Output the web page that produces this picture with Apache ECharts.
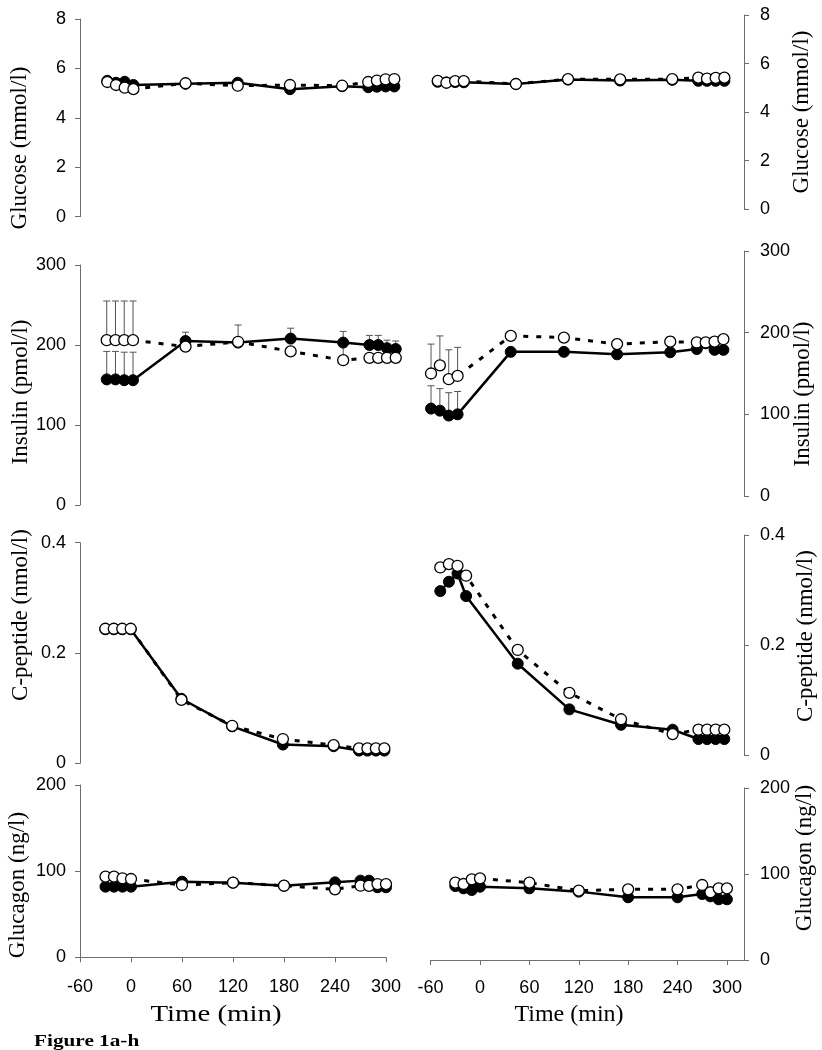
<!DOCTYPE html>
<html>
<head>
<meta charset="utf-8">
<script src="https://cdn.jsdelivr.net/npm/echarts@6.0.0/dist/echarts.min.js"></script>
<style>
html,body{margin:0;padding:0;background:#fff;}
#chart{width:822px;height:1050px;}
</style>
</head>
<body>
<div id="chart"></div>
<script>
// ---------- DATA ----------
const time = [-30, -20, -10, 0, 60, 120, 180, 240, 270, 280, 290, 300];
const xTickLabels = [-60, 0, 60, 120, 180, 240, 300];

// (a) Glucose, left
const glucoseA_filled = [5.50, 5.42, 5.46, 5.33, 5.38, 5.42, 5.16, 5.28, 5.24, 5.26, 5.27, 5.27];
const glucoseA_open   = [5.45, 5.33, 5.22, 5.16, 5.40, 5.30, 5.33, 5.30, 5.45, 5.51, 5.56, 5.57];
// (b) Glucose, right
const glucoseB_filled = [5.25, 5.22, 5.24, 5.23, 5.16, 5.34, 5.30, 5.33, 5.29, 5.29, 5.29, 5.29];
const glucoseB_open   = [5.29, 5.21, 5.28, 5.28, 5.16, 5.36, 5.35, 5.36, 5.42, 5.38, 5.41, 5.42];
// (c) Insulin, left
const insulinC_filled    = [157, 157, 156, 156, 205, 203, 208, 203, 200, 200, 196, 195];
const insulinC_filledErr = [35, 35, 35, 35, 11, 22, 13, 14, 12, 12, 10, 10];
const insulinC_open      = [206, 206, 206, 206, 198, 204, 192, 181, 184, 184, 184, 184];
const insulinC_openErr   = [49, 49, 49, 49, 0, 0, 0, 22, 0, 0, 0, 0];
// (d) Insulin, right
const insulinD_filled    = [107, 104.5, 98.5, 100, 176.5, 176.5, 173.5, 176, 180, 187, 179, 179];
const insulinD_filledErr = [28, 27, 28, 28, 0, 0, 0, 0, 0, 0, 0, 0];
const insulinD_open      = [150, 160, 143, 147, 196, 194, 186, 189, 188, 188, 189, 192];
const insulinD_openErr   = [36, 36, 36, 35, 0, 0, 6, 6, 5, 5, 5, 4];
// (e) C-peptide, left
const cpepE_filled = [0.243, 0.243, 0.243, 0.243, 0.117, 0.067, 0.034, 0.031, 0.023, 0.023, 0.023, 0.023];
const cpepE_open   = [0.244, 0.244, 0.244, 0.244, 0.115, 0.068, 0.044, 0.033, 0.027, 0.027, 0.027, 0.027];
// (f) C-peptide, right
const cpepF_filled = [0.298, 0.315, 0.330, 0.289, 0.166, 0.083, 0.055, 0.046, 0.029, 0.029, 0.029, 0.029];
const cpepF_open   = [0.341, 0.347, 0.344, 0.326, 0.191, 0.113, 0.065, 0.038, 0.046, 0.046, 0.046, 0.046];
// (g) Glucagon, left
const glucagonG_filled = [82, 82, 82, 82, 87.8, 86.6, 83, 87, 89, 89, 81.3, 81.3];
const glucagonG_open   = [93.6, 93.6, 91.7, 90.9, 83.9, 86.6, 83.1, 78.9, 83.1, 83, 85, 85];
// (h) Glucagon, right
const glucagonH_filled = [86, 83.3, 81.4, 85.2, 83.3, 79.5, 72.9, 72.9, 76.7, 74, 70.6, 70.6];
const glucagonH_open   = [89.9, 88.4, 93.8, 94.9, 89.9, 80.6, 82.2, 82.2, 87.2, 78.8, 83.3, 83.3];

const yTitles = ['Glucose (mmol/l)', 'Glucose (mmol/l)', 'Insulin (pmol/l)', 'Insulin (pmol/l)',
  'C-peptide (nmol/l)', 'C-peptide (nmol/l)', 'Glucagon (ng/l)', 'Glucagon (ng/l)'];
const yMaxes = [8, 8, 300, 300, 0.4, 0.4, 200, 200];
const yIntervals = [2, 2, 100, 100, 0.2, 0.2, 100, 100];

const panelData = [
  {filled: glucoseA_filled, open: glucoseA_open},
  {filled: glucoseB_filled, open: glucoseB_open},
  {filled: insulinC_filled, open: insulinC_open, filledErr: insulinC_filledErr, openErr: insulinC_openErr},
  {filled: insulinD_filled, open: insulinD_open, filledErr: insulinD_filledErr, openErr: insulinD_openErr},
  {filled: cpepE_filled, open: cpepE_open},
  {filled: cpepF_filled, open: cpepF_open},
  {filled: glucagonG_filled, open: glucagonG_open},
  {filled: glucagonH_filled, open: glucagonH_open}
];

// ---------- LAYOUT (pixels) ----------
const layout = [
  {side: 'left',  top: 19,    bottom: 216.7, x0: 133.4, s: 0.8697, title: [20, 148]},
  {side: 'right', top: 15,    bottom: 209.3, x0: 463.8, s: 0.8685, title: [802, 112]},
  {side: 'left',  top: 265,   bottom: 505,   x0: 133,   s: 0.8758, title: [21, 392]},
  {side: 'right', top: 251,   bottom: 496,   x0: 457.6, s: 0.886,  title: [803, 394]},
  {side: 'left',  top: 542.7, bottom: 763.3, x0: 130.7, s: 0.8455, title: [21, 615]},
  {side: 'right', top: 535,   bottom: 755,   x0: 466.1, s: 0.8606, title: [806, 636]},
  {side: 'left',  top: 785,   bottom: 957.3, x0: 131,   s: 0.85,   title: [18, 885], showX: true},
  {side: 'right', top: 788,   bottom: 960,   x0: 480,   s: 0.823,  title: [805, 858], showX: true}
];
const LEFT_AXIS_X = 80, RIGHT_AXIS_X = 744;

const AXIS_COLOR = '#6e6e6e';
const SANS = "'Liberation Sans', Arial, sans-serif";
const SERIF = "'Liberation Serif', 'Times New Roman', serif";

const grids = [], xAxes = [], yAxes = [], series = [], graphics = [];

function errItems(vals, errs) {
  const out = [];
  if (!errs) return out;
  for (let i = 0; i < time.length; i++) if (errs[i] > 0) out.push([time[i], vals[i], errs[i]]);
  return out;
}

function errorRender(params, api) {
  const x = api.value(0), m = api.value(1), e = api.value(2);
  const p0 = api.coord([x, m]);
  const p1 = api.coord([x, m + e]);
  const st = {stroke: '#555', lineWidth: 1};
  return {
    type: 'group',
    children: [
      {type: 'line', shape: {x1: p0[0], y1: p0[1], x2: p1[0], y2: p1[1]}, style: st},
      {type: 'line', shape: {x1: p1[0] - 3.5, y1: p1[1], x2: p1[0] + 3.5, y2: p1[1]}, style: st}
    ]
  };
}

layout.forEach((L, i) => {
  let left, width, xmin, xmax;
  if (L.side === 'left') {
    left = LEFT_AXIS_X;
    xmin = (LEFT_AXIS_X - L.x0) / L.s;
    xmax = 300;
    width = (xmax - xmin) * L.s;
  } else {
    xmin = -60;
    left = L.x0 + xmin * L.s;
    xmax = (RIGHT_AXIS_X - L.x0) / L.s;
    width = RIGHT_AXIS_X - left;
  }
  grids.push({left: left, width: width, top: L.top, height: L.bottom - L.top});

  xAxes.push({
    type: 'value', gridIndex: i, min: xmin, max: xmax, show: !!L.showX,
    axisLine: {show: true, onZero: false, lineStyle: {color: AXIS_COLOR, width: 1}},
    axisTick: {show: true, length: 5, lineStyle: {color: AXIS_COLOR}, customValues: xTickLabels},
    axisLabel: {show: true, customValues: xTickLabels, color: '#000', fontSize: 18,
      fontFamily: SANS, margin: L.side === 'left' ? 21 : 19},
    splitLine: {show: false}
  });

  yAxes.push({
    type: 'value', gridIndex: i, min: 0, max: yMaxes[i], interval: yIntervals[i],
    position: L.side,
    axisLine: {show: true, onZero: false, lineStyle: {color: AXIS_COLOR, width: 1}},
    axisTick: {show: true, length: 5, lineStyle: {color: AXIS_COLOR}},
    axisLabel: {color: '#000', fontSize: 18, fontFamily: SANS, margin: L.side === 'left' ? 14 : 16},
    splitLine: {show: false}
  });

  const d = panelData[i];
  const fErr = errItems(d.filled, d.filledErr);
  const oErr = errItems(d.open, d.openErr);
  if (fErr.length) series.push({
    type: 'custom', xAxisIndex: i, yAxisIndex: i, z: 1, silent: true,
    renderItem: errorRender, encode: {x: 0, y: 1}, data: fErr
  });
  if (oErr.length) series.push({
    type: 'custom', xAxisIndex: i, yAxisIndex: i, z: 1, silent: true,
    renderItem: errorRender, encode: {x: 0, y: 1}, data: oErr
  });

  series.push({
    type: 'line', xAxisIndex: i, yAxisIndex: i, z: 3,
    data: time.map((t, k) => [t, d.filled[k]]),
    symbol: 'circle', symbolSize: 11, showAllSymbol: true,
    lineStyle: {color: '#000', width: 2.5},
    itemStyle: {color: '#000', borderColor: '#000', borderWidth: 1},
    animation: false
  });
  series.push({
    type: 'line', xAxisIndex: i, yAxisIndex: i, z: 4,
    data: time.map((t, k) => [t, d.open[k]]),
    symbol: 'circle', symbolSize: 11, showAllSymbol: true,
    lineStyle: {color: '#000', width: 3, type: [5, 8]},
    itemStyle: {color: '#fff', borderColor: '#000', borderWidth: 1.3},
    animation: false
  });

  graphics.push({
    type: 'text', x: L.title[0], y: L.title[1], rotation: Math.PI / 2,
    style: {text: yTitles[i], fontFamily: SERIF, fontSize: 23, fill: '#000', align: 'center', verticalAlign: 'middle'}
  });
});

graphics.push({
  type: 'text', x: 216, y: 1015, scaleX: 1.2,
  style: {text: 'Time (min)', fontFamily: SERIF, fontSize: 24, fill: '#000', align: 'center', verticalAlign: 'middle'}
});
graphics.push({
  type: 'text', x: 569, y: 1015,
  style: {text: 'Time (min)', fontFamily: SERIF, fontSize: 24, fill: '#000', align: 'center', verticalAlign: 'middle'}
});
graphics.push({
  type: 'text', x: 34, y: 1042, scaleX: 1.25,
  style: {text: 'Figure 1a-h', fontFamily: SERIF, fontWeight: 'bold', fontSize: 17, fill: '#000', align: 'left', verticalAlign: 'middle'}
});

const chart = echarts.init(document.getElementById('chart'), null, {renderer: 'canvas'});
chart.setOption({
  backgroundColor: '#fff',
  animation: false,
  grid: grids,
  xAxis: xAxes,
  yAxis: yAxes,
  series: series,
  graphic: graphics
});
</script>
</body>
</html>
